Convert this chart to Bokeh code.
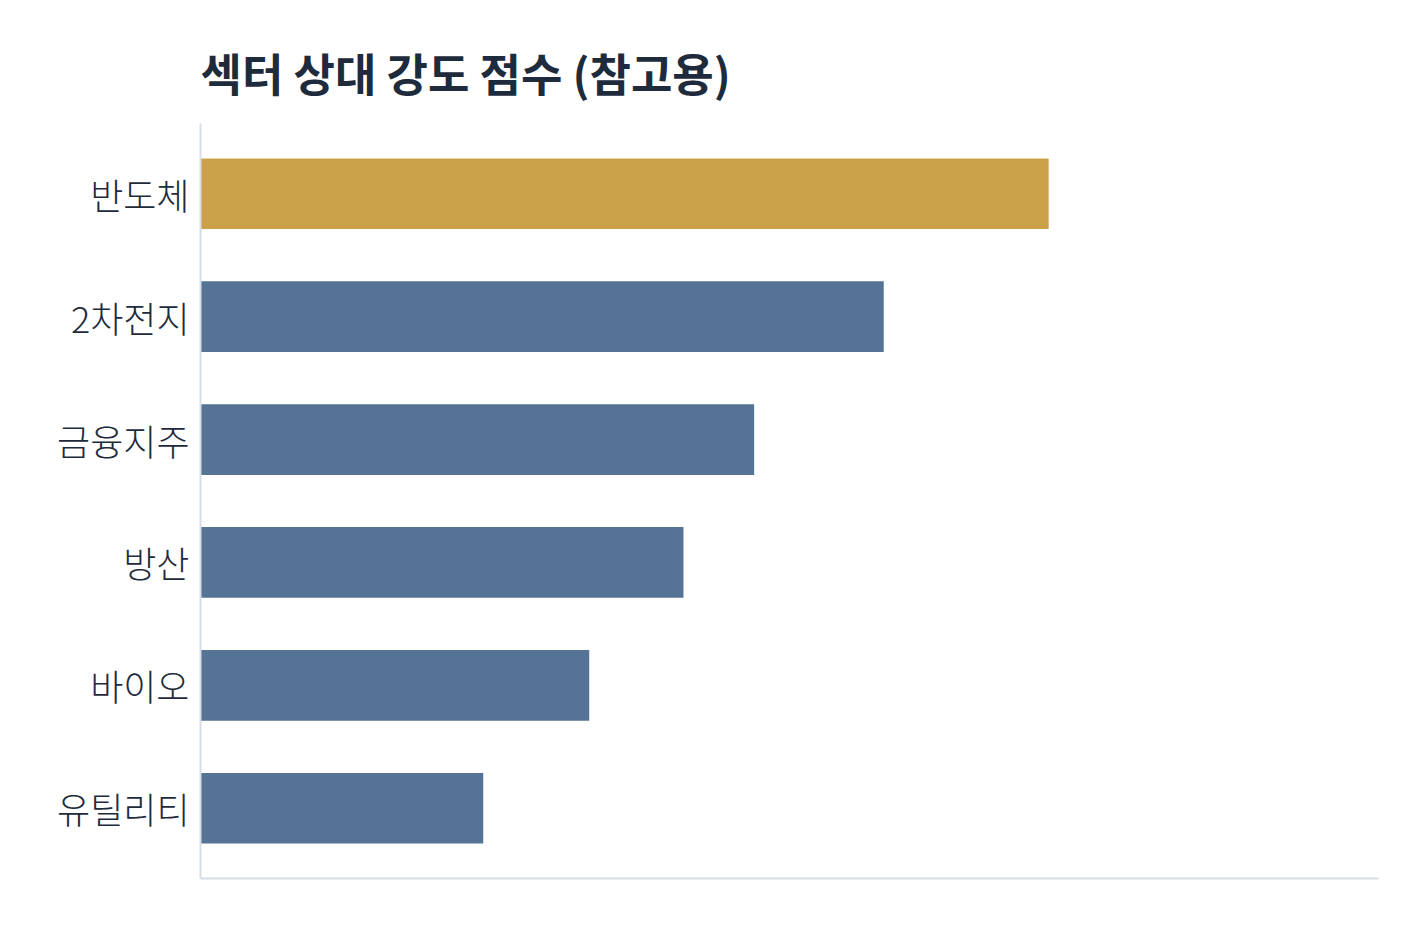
from bokeh.plotting import figure
from bokeh.models import Range1d, FactorRange
from bokeh.embed import file_html
from bokeh.resources import INLINE

sectors = ["반도체", "2차전지", "금융지주", "방산", "바이오", "유틸리티"]
scores = [72, 58, 47, 41, 33, 24]
colors = ["#CBA14A", "#557394", "#557394", "#557394", "#557394", "#557394"]

p = figure(width=1400, height=900, output_backend="svg", toolbar_location=None,
           y_range=FactorRange(factors=list(reversed(sectors)), range_padding=0.024),
           x_range=Range1d(0, 100),
           min_border_left=200, min_border_right=22, min_border_bottom=22, min_border_top=123)

p.hbar(y=sectors, right=scores, left=0, height=0.575, color=colors, line_color=None)

p.title.text = "섹터 상대 강도 점수 (참고용)"
p.title.text_font = "Noto Sans CJK KR"
p.title.text_font_size = "45px"
p.title.text_font_style = "bold"
p.title.text_color = "#1E2B3C"
p.title.align = "left"
p.title.standoff = 37

p.outline_line_color = None
p.xgrid.grid_line_color = None
p.ygrid.grid_line_color = None

p.xaxis.major_label_text_font_size = "0px"
p.xaxis.major_tick_line_color = None
p.xaxis.minor_tick_line_color = None
p.xaxis.axis_line_color = "#D5DDE6"
p.xaxis.axis_line_width = 2

p.yaxis.major_tick_line_color = None
p.yaxis.minor_tick_line_color = None
p.yaxis.axis_line_color = "#D5DDE6"
p.yaxis.axis_line_width = 2
p.yaxis.major_label_text_font = "Noto Sans CJK KR Light"
p.yaxis.major_label_text_font_size = "36px"
p.yaxis.major_label_text_color = "#1E2B3C"
p.yaxis.major_label_standoff = 5

open("out.html", "w").write(file_html(p, INLINE))
